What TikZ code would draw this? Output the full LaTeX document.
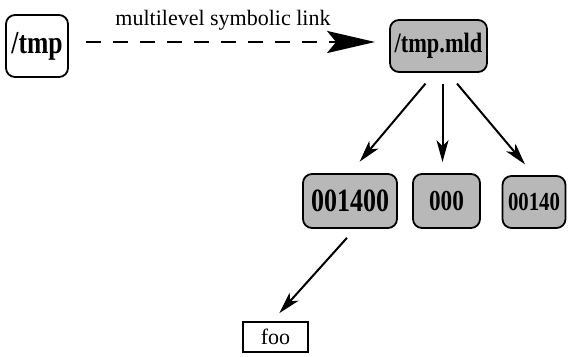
\documentclass[tikz,border=0pt]{standalone}
\usepackage{fontspec}
\setmainfont{Liberation Serif}
\newfontfamily\DirFont{Liberation Serif}[FakeStretch=0.8]
\usetikzlibrary{arrows.meta}
\newcommand\DirLabel[2]{{\fontsize{#1}{#1}\selectfont\DirFont\bfseries #2}}
\tikzset{
    DirBox/.style={draw, line width=1.8pt, rounded corners=9pt, fill=black!28,
        inner sep=0pt},
    LeafBox/.style={draw, line width=1.4pt, inner sep=0pt,
        minimum width=65pt, minimum height=30pt},
    TreeArrow/.style={line width=2pt, -{Stealth[length=22pt,width=12pt,inset=6pt]}},
}

\begin{document}
\begin{tikzpicture}[x=1pt,y=-1pt]
    \useasboundingbox (0,0) rectangle (569,356);
    % top row: the link and its target
    \node[DirBox, fill=white, minimum width=62pt, minimum height=62pt] (Tmp) at (37,46) {\DirLabel{32}{/tmp}};
    \node[DirBox, minimum width=97pt, minimum height=52pt] (TmpMld) at (438.5,46) {\DirLabel{28}{/tmp.mld}};
    \draw[line width=2.8pt, dash pattern=on 15pt off 12pt,
          -{Stealth[length=48pt,width=22pt,inset=9pt]},
          shorten <=17pt, shorten >=14pt]
        ([yshift=4pt]Tmp.east) -- ([yshift=4pt]TmpMld.west)
        node[midway, above=7pt, font=\fontsize{22}{22}\selectfont, xshift=-6pt] (LinkLabel) {multilevel symbolic link};
    % second level
    \node[DirBox, minimum width=94pt, minimum height=54pt] (DirA) at (350,201) {\DirLabel{32.5}{001400}};
    \node[DirBox, minimum width=67pt, minimum height=54pt] (DirB) at (446.5,201) {\DirLabel{29}{000}};
    \node[DirBox, minimum width=63pt, minimum height=52pt] (DirC) at (534,202) {\DirLabel{26}{00140}};
    \draw[TreeArrow, shorten <=14pt, shorten >=15pt] ([xshift=-4pt]TmpMld.south) -- (DirA.north);
    \draw[TreeArrow, shorten <=11pt, shorten >=11pt] ([xshift=4pt]TmpMld.south) -- ([xshift=-4pt]DirB.north);
    \draw[TreeArrow, shorten <=14pt, shorten >=14pt] ([xshift=9.5pt]TmpMld.south) -- (DirC.north);
    % leaf
    \node[LeafBox] (Foo) at (275.5,337) {\fontsize{22}{22}\selectfont foo};
    \draw[TreeArrow, shorten <=12pt, shorten >=11pt] ([xshift=5pt]DirA.south) -- ([xshift=-3.5pt]Foo.north);
\end{tikzpicture}
\end{document}
